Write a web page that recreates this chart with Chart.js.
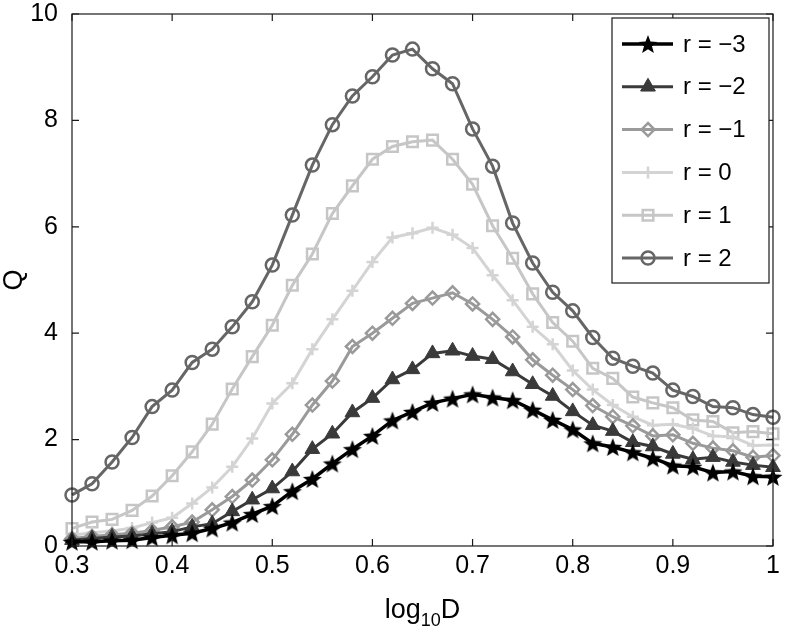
<!DOCTYPE html>
<html>
<head>
<meta charset="utf-8">
<script src="https://cdn.jsdelivr.net/npm/chart.js@4.4.1/dist/chart.umd.min.js"></script>
<style>
html, body { margin: 0; padding: 0; background: #fff; }
</style>
</head>
<body>
<canvas id="myChart" width="786" height="637"></canvas>
<script>
// log10 D sample points
const xValues = [0.30, 0.32, 0.34, 0.36, 0.38, 0.40, 0.42, 0.44, 0.46, 0.48,
                 0.50, 0.52, 0.54, 0.56, 0.58, 0.60, 0.62, 0.64, 0.66, 0.68,
                 0.70, 0.72, 0.74, 0.76, 0.78, 0.80, 0.82, 0.84, 0.86, 0.88,
                 0.90, 0.92, 0.94, 0.96, 0.98, 1.00];

// Q values
const rMinus3 = [0.08, 0.08, 0.10, 0.11, 0.16, 0.20, 0.24, 0.33, 0.44, 0.60,
                 0.75, 1.03, 1.26, 1.55, 1.82, 2.07, 2.36, 2.52, 2.69, 2.77,
                 2.85, 2.79, 2.74, 2.56, 2.37, 2.19, 1.93, 1.86, 1.76, 1.65,
                 1.51, 1.49, 1.38, 1.40, 1.31, 1.30];
const rMinus2 = [0.11, 0.14, 0.17, 0.19, 0.23, 0.27, 0.36, 0.42, 0.65, 0.87,
                 1.08, 1.40, 1.82, 2.11, 2.51, 2.78, 3.13, 3.32, 3.62, 3.67,
                 3.57, 3.51, 3.28, 3.04, 2.82, 2.53, 2.27, 2.16, 1.95, 1.87,
                 1.73, 1.63, 1.67, 1.58, 1.52, 1.48];
const rMinus1 = [0.14, 0.18, 0.21, 0.24, 0.29, 0.36, 0.45, 0.68, 0.93, 1.24,
                 1.62, 2.10, 2.65, 3.10, 3.75, 4.00, 4.28, 4.56, 4.66, 4.76,
                 4.55, 4.26, 3.93, 3.50, 3.21, 2.94, 2.64, 2.43, 2.26, 2.07,
                 2.09, 1.93, 1.84, 1.79, 1.67, 1.70];
const rZero   = [0.20, 0.25, 0.28, 0.34, 0.44, 0.53, 0.80, 1.10, 1.49, 2.02,
                 2.68, 3.06, 3.70, 4.26, 4.80, 5.34, 5.80, 5.88, 5.98, 5.85,
                 5.60, 5.09, 4.62, 4.12, 3.79, 3.30, 2.94, 2.65, 2.43, 2.27,
                 2.29, 2.21, 2.07, 2.05, 1.89, 1.90];
const rPlus1  = [0.33, 0.45, 0.50, 0.67, 0.94, 1.32, 1.77, 2.29, 2.95, 3.56,
                 4.15, 4.90, 5.49, 6.25, 6.77, 7.27, 7.51, 7.60, 7.63, 7.27,
                 6.80, 6.02, 5.41, 4.74, 4.20, 3.85, 3.34, 3.15, 2.80, 2.69,
                 2.60, 2.37, 2.34, 2.13, 2.15, 2.11];
const rPlus2  = [0.96, 1.17, 1.58, 2.04, 2.62, 2.93, 3.45, 3.70, 4.12, 4.59,
                 5.28, 6.22, 7.16, 7.92, 8.46, 8.82, 9.23, 9.34, 8.97, 8.69,
                 7.84, 7.14, 6.07, 5.32, 4.77, 4.42, 3.92, 3.53, 3.38, 3.25,
                 2.93, 2.81, 2.62, 2.60, 2.47, 2.42];

const seriesLabels = ['r = \u22123', 'r = \u22122', 'r = \u22121', 'r = 0', 'r = 1', 'r = 2'];
const seriesValues = [rMinus3, rMinus2, rMinus1, rZero, rPlus1, rPlus2];

const xTicks = [0.3, 0.4, 0.5, 0.6, 0.7, 0.8, 0.9, 1];
const yTicks = [0, 2, 4, 6, 8, 10];

const fontFamily = "'Liberation Sans', Arial, sans-serif";
const tickFontSize = 25;

// filled five point star used as a marker
function makeStar(outer, color) {
    const c = document.createElement('canvas');
    const s = Math.ceil(outer * 2 + 2);
    c.width = s; c.height = s;
    const g = c.getContext('2d');
    const inner = outer * 0.42;
    g.beginPath();
    for (let k = 0; k < 10; k++) {
        const r = k % 2 === 0 ? outer : inner;
        const a = -Math.PI / 2 + k * Math.PI / 5;
        const px = s / 2 + r * Math.cos(a);
        const py = s / 2 + 1 + r * Math.sin(a);
        k === 0 ? g.moveTo(px, py) : g.lineTo(px, py);
    }
    g.closePath();
    g.fillStyle = color;
    g.fill();
    return c;
}

const styles = [
    { color: '#000000', width: 3.5, point: makeStar(10, '#000'), radius: 9, fill: '#000000', pbw: 1 },
    { color: '#3a3a3a', width: 3, point: 'triangle', radius: 8.5, fill: '#3a3a3a', pbw: 1 },
    { color: '#9a9a9a', width: 3, point: 'rectRot', radius: 6.5, fill: 'rgba(0,0,0,0)', pbw: 2.5 },
    { color: '#d4d4d4', width: 3, point: 'cross', radius: 6, fill: 'rgba(0,0,0,0)', pbw: 2.5 },
    { color: '#c6c6c6', width: 3, point: 'rect', radius: 7.5, fill: 'rgba(0,0,0,0)', pbw: 2.5 },
    { color: '#666666', width: 3, point: 'circle', radius: 6.5, fill: 'rgba(0,0,0,0)', pbw: 2.5 },
];

const datasets = seriesLabels.map((label, i) => ({
    label: label,
    data: xValues.map((x, j) => ({ x: x, y: seriesValues[i][j] })),
    borderColor: styles[i].color,
    borderWidth: styles[i].width,
    backgroundColor: styles[i].fill,
    pointStyle: styles[i].point,
    pointRadius: styles[i].radius,
    pointBorderWidth: styles[i].pbw,
    pointBorderColor: styles[i].color,
    pointBackgroundColor: styles[i].fill,
    tension: 0,
    clip: false,
}));

// box, inward ticks, axis titles and the matlab style legend
const matlabFrame = {
    id: 'matlabFrame',
    afterDraw(chart) {
        const { ctx, chartArea: a, scales: { x, y } } = chart;
        ctx.save();
        ctx.strokeStyle = '#1a1a1a';
        ctx.lineWidth = 1.2;
        ctx.strokeRect(a.left, a.top, a.right - a.left, a.bottom - a.top);

        const tl = 7;
        ctx.beginPath();
        xTicks.forEach(v => {
            const px = x.getPixelForValue(v);
            ctx.moveTo(px, a.bottom); ctx.lineTo(px, a.bottom - tl);
            ctx.moveTo(px, a.top); ctx.lineTo(px, a.top + tl);
        });
        yTicks.forEach(v => {
            const py = y.getPixelForValue(v);
            ctx.moveTo(a.left, py); ctx.lineTo(a.left + tl, py);
            ctx.moveTo(a.right, py); ctx.lineTo(a.right - tl, py);
        });
        ctx.stroke();

        // x title with subscript
        ctx.fillStyle = '#000';
        ctx.textBaseline = 'alphabetic';
        ctx.textAlign = 'left';
        const big = '27px ' + fontFamily, small = '18px ' + fontFamily;
        ctx.font = big;
        const w1 = ctx.measureText('log').width, w3 = ctx.measureText('D').width;
        ctx.font = small;
        const w2 = ctx.measureText('10').width;
        let sx = (a.left + a.right) / 2 - (w1 + w2 + w3) / 2;
        const base = 618;
        ctx.font = big; ctx.fillText('log', sx, base);
        ctx.font = small; ctx.fillText('10', sx + w1, base + 8);
        ctx.font = big; ctx.fillText('D', sx + w1 + w2, base);

        // y title
        ctx.save();
        ctx.translate(22, (a.top + a.bottom) / 2);
        ctx.rotate(-Math.PI / 2);
        ctx.textAlign = 'center';
        ctx.font = big;
        ctx.fillText('Q', 0, 0);
        ctx.restore();

        // legend
        const lx = 612, ly = 18, lw = 157, lh = 265;
        ctx.fillStyle = '#fff';
        ctx.fillRect(lx, ly, lw, lh);
        ctx.strokeStyle = '#1a1a1a';
        ctx.lineWidth = 1.2;
        ctx.strokeRect(lx, ly, lw, lh);
        chart.data.datasets.forEach((ds, i) => {
            const ry = 44 + i * 42.8;
            ctx.strokeStyle = ds.borderColor;
            ctx.lineWidth = ds.borderWidth;
            ctx.beginPath();
            ctx.moveTo(622, ry); ctx.lineTo(673, ry);
            ctx.stroke();
            ctx.fillStyle = ds.pointBackgroundColor;
            ctx.lineWidth = ds.pointBorderWidth;
            Chart.helpers.drawPoint(ctx, {
                pointStyle: ds.pointStyle,
                radius: ds.pointRadius,
                rotation: 0,
                borderWidth: ds.pointBorderWidth,
            }, 648, ry);
            ctx.fillStyle = '#000';
            ctx.font = '24px ' + fontFamily;
            ctx.textBaseline = 'middle';
            ctx.textAlign = 'left';
            ctx.fillText(ds.label, 683, ry + 1);
        });
        ctx.restore();
    }
};

const ctx = document.getElementById('myChart').getContext('2d');

const myChart = new Chart(ctx, {
    type: 'line',
    data: { datasets: datasets },
    options: {
        responsive: false,
        animation: false,
        devicePixelRatio: 1,
        layout: { padding: { top: 14, right: 13, left: 0, bottom: 0 } },
        scales: {
            x: {
                type: 'linear',
                min: 0.3,
                max: 1,
                afterBuildTicks: (scale) => { scale.ticks = xTicks.map(v => ({ value: v })); },
                ticks: {
                    callback: (v) => String(Math.round(v * 10) / 10),
                    color: '#000',
                    font: { size: tickFontSize, family: fontFamily, lineHeight: 1 },
                    padding: 8,
                    maxRotation: 0,
                    autoSkip: false,
                },
                grid: { display: false, drawTicks: false },
                border: { display: false },
                afterFit: (scale) => {
                    scale.height = 91;
                    scale.paddingLeft = 0;
                    scale.paddingRight = 0;
                },
            },
            y: {
                min: 0,
                max: 10,
                afterBuildTicks: (scale) => { scale.ticks = yTicks.map(v => ({ value: v })); },
                ticks: {
                    color: '#000',
                    font: { size: tickFontSize, family: fontFamily, lineHeight: 1 },
                    padding: 14,
                },
                grid: { display: false, drawTicks: false },
                border: { display: false },
                afterFit: (scale) => {
                    scale.width = 72;
                    scale.paddingTop = 0;
                    scale.paddingBottom = 0;
                },
            },
        },
        plugins: {
            legend: { display: false },
            tooltip: { enabled: false },
        },
    },
    plugins: [matlabFrame],
});
</script>
</body>
</html>
